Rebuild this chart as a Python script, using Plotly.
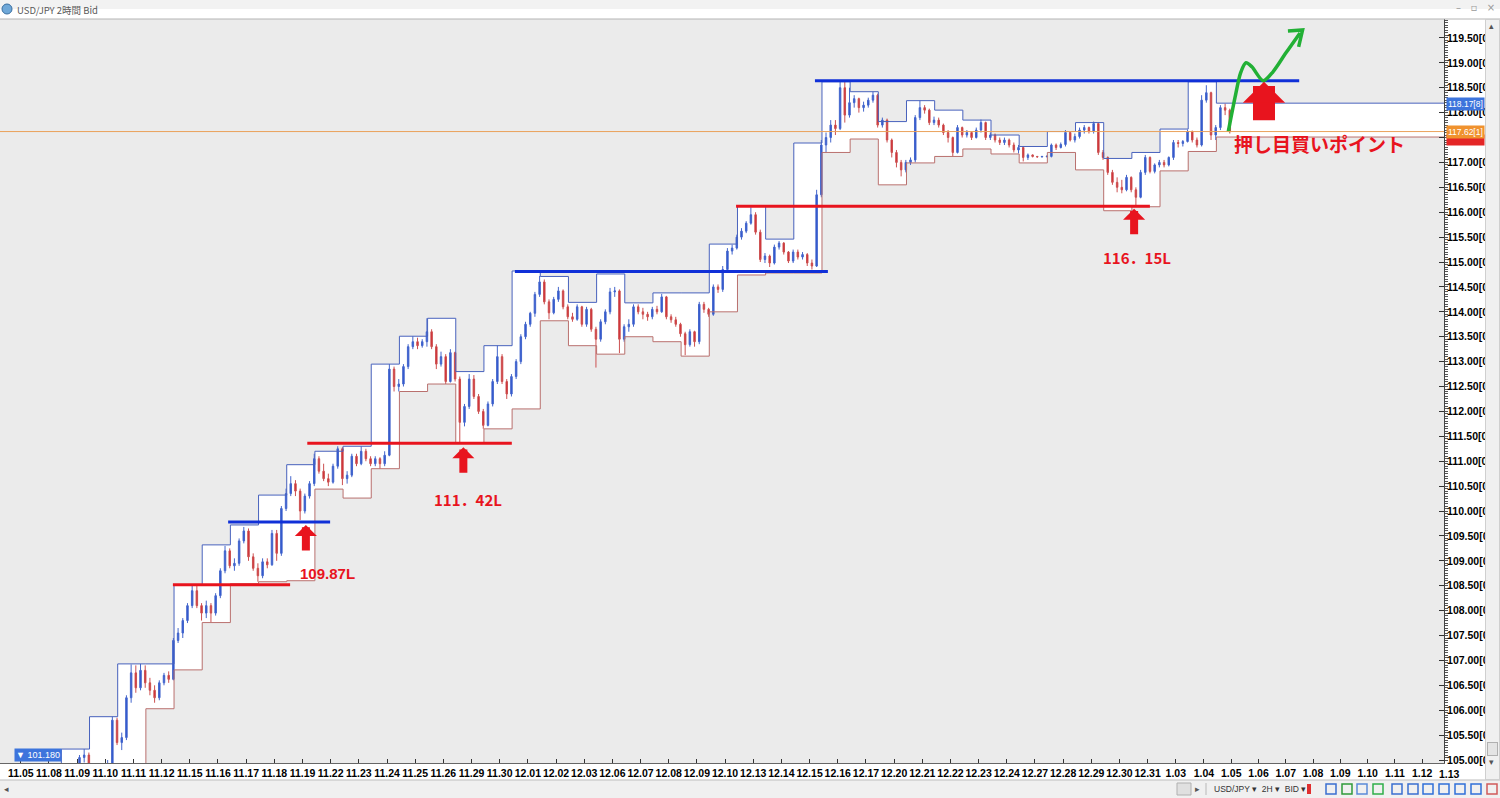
import plotly.graph_objects as go

# ---------------- data ----------------
day_labels = ["11.05", "11.08", "11.09", "11.10", "11.11", "11.12", "11.15", "11.16", "11.17",
              "11.18", "11.19", "11.22", "11.23", "11.24", "11.25", "11.26", "11.29", "11.30",
              "12.01", "12.02", "12.03", "12.06", "12.07", "12.08", "12.09", "12.10", "12.13",
              "12.14", "12.15", "12.16", "12.17", "12.20", "12.21", "12.22", "12.23", "12.24",
              "12.27", "12.28", "12.29", "12.30", "12.31", "1.03", "1.04"]
future_labels = ["1.05", "1.06", "1.07", "1.08", "1.09", "1.10", "1.11", "1.12", "1.13"]
BARS_PER_DAY = 6

bar_open = [
    103.10, 103.25, 103.45, 103.55, 103.70, 103.80,
    103.95, 104.25, 104.40, 104.35, 104.55, 104.70,
    104.65, 105.05, 105.10, 104.50, 102.80, 101.90,
    103.30, 104.90, 105.80, 105.35, 105.45, 106.25,
    106.75, 106.45, 106.80, 106.55, 106.40, 106.25,
    106.55, 106.70, 106.62, 107.40, 107.55, 107.80,
    108.10, 108.40, 108.10, 107.95, 108.10, 107.95,
    108.30, 108.80, 109.20, 108.90, 108.95, 109.40,
    109.60, 109.08, 108.85, 108.70, 108.98, 108.92,
    109.55, 109.15, 110.05, 110.35, 110.55, 110.40,
    110.00, 110.30, 110.55, 111.05, 110.80, 110.65,
    110.58, 110.90, 111.25, 110.65, 110.72, 111.10,
    110.95, 111.20, 111.05, 110.95, 111.05, 110.95,
    111.12, 112.85, 112.50, 112.55, 112.90, 113.30,
    113.40, 113.32, 113.40, 113.60, 113.30, 112.95,
    113.10, 112.60, 113.18, 112.65, 111.78, 112.10,
    112.65, 112.30, 112.00, 111.72, 112.15, 112.60,
    113.10, 112.60, 112.35, 112.70, 113.00, 113.50,
    113.75, 113.97, 114.35, 114.60, 114.20, 113.98,
    114.25, 114.42, 114.10, 113.90, 113.85, 114.10,
    113.75, 114.05, 113.65, 113.45, 113.80, 114.00,
    114.40, 114.42, 113.45, 113.70, 113.75, 114.10,
    114.00, 113.95, 113.90, 114.05, 114.00, 114.30,
    113.90, 113.84, 113.75, 113.56, 113.34, 113.60,
    113.40, 114.15, 114.05, 113.95, 114.50, 114.45,
    114.85, 115.22, 115.28, 115.50, 115.62, 115.78,
    115.95, 115.60, 115.05, 115.12, 114.98, 115.30,
    115.38, 115.20, 115.02, 115.20, 115.10, 115.15,
    114.98, 114.92, 116.35, 117.35, 117.50, 117.75,
    117.68, 118.50, 117.95, 118.20, 118.28, 118.10,
    118.15, 118.25, 118.35, 117.75, 117.85, 117.45,
    117.20, 117.00, 116.85, 117.00, 117.05, 117.90,
    118.10, 118.05, 117.80, 117.85, 117.75, 117.60,
    117.50, 117.20, 117.70, 117.55, 117.60, 117.50,
    117.65, 117.80, 117.50, 117.55, 117.45, 117.40,
    117.45, 117.35, 117.25, 117.30, 117.10, 117.15,
    117.12, 117.11, 117.12, 117.12, 117.35, 117.30,
    117.36, 117.60, 117.45, 117.52, 117.65, 117.70,
    117.62, 117.78, 117.20, 117.10, 116.80, 116.60,
    116.50, 116.45, 116.70, 116.45, 116.30, 116.80,
    117.10, 116.82, 116.95, 117.00, 116.95, 117.10,
    117.40, 117.38, 117.42, 117.62, 117.45, 117.35,
    118.25, 118.40, 117.55, 117.70, 118.10, 118.05,
]
bar_high = [
    103.35, 103.50, 103.65, 103.80, 103.90, 104.00,
    104.30, 104.45, 104.55, 104.60, 104.75, 104.85,
    105.10, 105.22, 105.15, 104.60, 103.00, 103.40,
    105.00, 105.87, 105.85, 105.55, 106.30, 106.92,
    106.90, 106.93, 106.90, 106.65, 106.50, 106.60,
    106.75, 106.78, 107.45, 107.65, 107.85, 108.15,
    108.52, 108.50, 108.15, 108.20, 108.15, 108.35,
    108.85, 109.30, 109.25, 109.05, 109.45, 109.68,
    109.65, 109.15, 108.95, 109.05, 109.05, 109.62,
    109.62, 110.10, 110.45, 110.70, 110.62, 110.45,
    110.35, 110.60, 111.15, 111.10, 110.95, 110.75,
    110.95, 111.30, 111.28, 110.80, 111.15, 111.15,
    111.30, 111.25, 111.10, 111.10, 111.08, 111.20,
    112.95, 112.90, 112.65, 112.95, 113.35, 113.51,
    113.48, 113.45, 113.87, 113.65, 113.35, 113.20,
    113.15, 113.25, 113.20, 112.70, 112.15, 112.75,
    112.73, 112.35, 112.05, 112.20, 112.65, 113.32,
    113.15, 112.65, 112.75, 113.05, 113.55, 113.80,
    114.00, 114.40, 114.72, 114.65, 114.25, 114.30,
    114.50, 114.45, 114.15, 113.98, 114.15, 114.12,
    114.10, 114.08, 113.70, 113.85, 114.05, 114.48,
    114.50, 114.45, 113.75, 113.85, 114.15, 114.15,
    114.08, 114.00, 114.10, 114.12, 114.36, 114.32,
    113.95, 113.90, 113.78, 113.60, 113.65, 113.62,
    114.20, 114.20, 114.08, 114.55, 114.55, 114.92,
    115.28, 115.35, 115.55, 115.68, 115.82, 116.10,
    116.00, 115.65, 115.18, 115.15, 115.35, 115.42,
    115.40, 115.22, 115.25, 115.25, 115.20, 115.18,
    115.05, 116.45, 117.45, 117.60, 117.85, 117.85,
    118.64, 118.62, 118.50, 118.35, 118.30, 118.22,
    118.30, 118.42, 118.38, 117.90, 117.88, 117.48,
    117.25, 117.05, 117.05, 117.10, 117.95, 118.24,
    118.15, 118.08, 117.92, 117.90, 117.78, 117.65,
    117.52, 117.75, 117.72, 117.65, 117.62, 117.70,
    117.86, 117.82, 117.60, 117.58, 117.50, 117.50,
    117.48, 117.40, 117.35, 117.32, 117.18, 117.16,
    117.13, 117.13, 117.14, 117.38, 117.38, 117.40,
    117.65, 117.62, 117.58, 117.70, 117.75, 117.72,
    117.82, 117.80, 117.25, 117.12, 116.85, 116.70,
    116.65, 116.75, 116.72, 116.50, 116.85, 117.15,
    117.12, 116.98, 117.05, 117.05, 117.12, 117.45,
    117.45, 117.45, 117.66, 117.64, 117.50, 118.35,
    118.55, 118.42, 117.75, 118.15, 118.18, 118.08,
]
bar_low = [
    102.95, 103.15, 103.35, 103.45, 103.60, 103.72,
    103.90, 104.15, 104.30, 104.30, 104.45, 104.55,
    104.60, 104.95, 104.40, 102.60, 101.18, 101.80,
    103.20, 104.85, 105.30, 105.20, 105.40, 106.15,
    106.35, 106.40, 106.45, 106.30, 106.15, 106.20,
    106.50, 106.55, 106.60, 107.35, 107.45, 107.75,
    108.05, 108.05, 107.80, 107.85, 107.77, 107.90,
    108.25, 108.75, 108.85, 108.80, 108.90, 109.35,
    109.00, 108.80, 108.58, 108.65, 108.85, 108.90,
    109.00, 109.10, 110.00, 110.30, 110.30, 109.82,
    109.95, 110.25, 110.50, 110.75, 110.60, 110.50,
    110.55, 110.85, 110.52, 110.55, 110.68, 110.90,
    110.92, 111.00, 110.90, 110.90, 110.85, 110.90,
    111.10, 112.40, 112.40, 112.50, 112.85, 113.25,
    113.25, 113.28, 113.30, 113.25, 112.85, 112.90,
    112.55, 112.58, 112.60, 111.36, 111.70, 112.05,
    112.25, 111.95, 111.65, 111.70, 112.10, 112.55,
    112.55, 112.25, 112.30, 112.65, 112.95, 113.45,
    113.70, 113.90, 114.30, 114.15, 113.85, 113.95,
    114.20, 114.05, 113.85, 113.80, 113.82, 113.70,
    113.70, 113.60, 112.88, 113.40, 113.75, 113.95,
    114.30, 113.17, 113.40, 113.60, 113.70, 113.95,
    113.85, 113.82, 113.85, 113.95, 113.98, 113.85,
    113.78, 113.70, 113.50, 113.13, 113.30, 113.30,
    113.35, 113.98, 113.90, 113.92, 114.38, 114.40,
    114.80, 115.15, 115.25, 115.45, 115.58, 115.75,
    115.55, 115.00, 114.98, 114.90, 114.95, 115.25,
    115.15, 114.98, 114.98, 115.05, 115.05, 114.92,
    114.85, 114.90, 116.30, 117.20, 117.40, 117.55,
    117.65, 117.80, 117.90, 118.10, 118.00, 118.02,
    118.10, 118.20, 117.70, 117.70, 117.40, 117.10,
    116.90, 116.72, 116.80, 116.95, 117.00, 117.85,
    117.98, 117.75, 117.75, 117.70, 117.55, 117.40,
    117.12, 117.18, 117.50, 117.50, 117.45, 117.48,
    117.60, 117.45, 117.45, 117.40, 117.35, 117.35,
    117.30, 117.20, 117.18, 117.02, 117.05, 117.10,
    117.10, 117.10, 117.10, 117.10, 117.25, 117.28,
    117.32, 117.42, 117.40, 117.48, 117.58, 117.58,
    117.58, 117.15, 117.05, 116.75, 116.55, 116.40,
    116.38, 116.42, 116.40, 116.11, 116.28, 116.75,
    116.78, 116.78, 116.90, 116.90, 116.92, 117.05,
    117.30, 117.32, 117.40, 117.40, 117.30, 117.32,
    118.20, 117.45, 117.45, 117.65, 117.95, 117.58,
]
bar_close = [
    103.25, 103.45, 103.55, 103.70, 103.80, 103.95,
    104.25, 104.40, 104.35, 104.55, 104.70, 104.65,
    105.05, 105.10, 104.50, 102.80, 101.90, 103.30,
    104.90, 105.80, 105.35, 105.45, 106.25, 106.75,
    106.45, 106.80, 106.55, 106.40, 106.25, 106.55,
    106.70, 106.62, 107.40, 107.55, 107.80, 108.10,
    108.40, 108.10, 107.95, 108.10, 107.95, 108.30,
    108.80, 109.20, 108.90, 108.95, 109.40, 109.60,
    109.08, 108.85, 108.70, 108.98, 108.92, 109.55,
    109.15, 110.05, 110.35, 110.55, 110.40, 110.00,
    110.30, 110.55, 111.05, 110.80, 110.65, 110.58,
    110.90, 111.25, 110.65, 110.72, 111.10, 110.95,
    111.20, 111.05, 110.95, 111.05, 110.95, 111.12,
    112.85, 112.50, 112.55, 112.90, 113.30, 113.40,
    113.32, 113.40, 113.60, 113.30, 112.95, 113.10,
    112.60, 113.18, 112.65, 111.78, 112.10, 112.65,
    112.30, 112.00, 111.72, 112.15, 112.60, 113.10,
    112.60, 112.35, 112.70, 113.00, 113.50, 113.75,
    113.97, 114.35, 114.60, 114.20, 113.98, 114.25,
    114.42, 114.10, 113.90, 113.85, 114.10, 113.75,
    114.05, 113.65, 113.45, 113.80, 114.00, 114.40,
    114.42, 113.45, 113.70, 113.75, 114.10, 114.00,
    113.95, 113.90, 114.05, 114.00, 114.30, 113.90,
    113.84, 113.75, 113.56, 113.34, 113.60, 113.40,
    114.15, 114.05, 113.95, 114.50, 114.45, 114.85,
    115.22, 115.28, 115.50, 115.62, 115.78, 115.95,
    115.60, 115.05, 115.12, 114.98, 115.30, 115.38,
    115.20, 115.02, 115.20, 115.10, 115.15, 114.98,
    114.92, 116.35, 117.35, 117.50, 117.75, 117.68,
    118.50, 117.95, 118.20, 118.28, 118.10, 118.15,
    118.25, 118.35, 117.75, 117.85, 117.45, 117.20,
    117.00, 116.85, 117.00, 117.05, 117.90, 118.10,
    118.05, 117.80, 117.85, 117.75, 117.60, 117.50,
    117.20, 117.70, 117.55, 117.60, 117.50, 117.65,
    117.80, 117.50, 117.55, 117.45, 117.40, 117.45,
    117.35, 117.25, 117.30, 117.10, 117.15, 117.12,
    117.11, 117.12, 117.12, 117.35, 117.30, 117.36,
    117.60, 117.45, 117.52, 117.65, 117.70, 117.62,
    117.78, 117.20, 117.10, 116.80, 116.60, 116.50,
    116.45, 116.70, 116.45, 116.30, 116.80, 117.10,
    116.82, 116.95, 117.00, 116.95, 117.10, 117.40,
    117.38, 117.42, 117.62, 117.45, 117.35, 118.25,
    118.40, 117.55, 117.70, 118.10, 118.05, 117.62,
]

# daily range boxes (upper = blue, lower = red), one per day starting at day 1
chan_high = [105.22, 105.87, 106.93, 106.93, 108.52, 109.32, 109.72, 110.32, 110.93, 111.20,
             111.30, 112.95, 113.51, 113.87, 112.80, 113.32, 114.82, 114.71, 114.19, 114.76,
             114.18, 114.38, 114.38, 115.36, 116.12, 115.46, 117.39, 118.62, 118.42, 117.82,
             118.24, 118.05, 117.85, 117.55, 117.32, 117.62, 117.80, 117.08, 117.20, 117.67,
             118.62, 118.19]
chan_low = [104.00, 101.18, 102.00, 106.03, 106.81, 107.76, 108.54, 108.58, 108.60, 110.44,
            110.26, 110.85, 112.40, 112.55, 111.36, 111.65, 112.05, 113.82, 113.32, 113.15,
            113.50, 113.40, 113.11, 114.00, 114.74, 114.78, 114.78, 117.20, 117.47, 116.55,
            116.99, 117.12, 117.27, 117.17, 116.99, 117.20, 116.85, 116.03, 116.11, 116.83,
            117.22, 117.51]

# hand-drawn horizontal lines (start day, end day, price, colour)
hline_start = [5.40, 7.36, 10.17, 17.54, 28.19, 25.39]
hline_end = [9.56, 10.98, 17.43, 28.65, 45.38, 40.08]
hline_price = [108.52, 109.78, 111.36, 114.81, 118.64, 116.12]
hline_color = ["#e8141e", "#1030d8", "#e8141e", "#1030d8", "#1030d8", "#e8141e"]

# support marks (arrow tip position and label)
mark_day = [10.12, 15.71, 39.52]
mark_tip = [109.72, 111.28, 116.07]
mark_text = ["109.87L", "111．42L", "116．15L"]
mark_text_day = [10.89, 15.88, 39.62]
mark_text_price = [108.74, 110.24, 115.10]
mark_font = ["Liberation Sans", "Noto Sans CJK JP", "Noto Sans CJK JP"]

buy_day, buy_tip = 44.13, 118.62
buy_text, buy_text_day, buy_text_price = "押し目買いポイント", 42.99, 117.39

green_day = [42.86, 43.10, 43.30, 43.49, 43.70, 44.10, 44.45, 44.91, 45.41]
green_price = [117.61, 118.30, 118.80, 119.00, 118.92, 118.64, 118.82, 119.20, 119.60]
green_head_day = [44.98, 45.50, 45.36]
green_head_price = [119.64, 119.66, 119.32]

last_price = 117.62
ask_price = 118.17
bid_tag_price = 117.46
low_price_text = "▼ 101.180"

y_ticks = [105.0 + 0.5 * i for i in range(30)]
hidden_tick = 117.5   # this scale label sits under the price tags

# ---------------- layout geometry ----------------
W, H = 1500, 798
M_L, M_R, M_T, M_B = 0, 56, 19, 35
PW, PH = W - M_L - M_R, H - M_T - M_B
X_MIN, X_MAX = -0.738, 50.52
Y_MIN, Y_MAX = 104.94, 119.88
BOX_SHIFT = 0.44
FUT_STEP = 0.968


def px(xp):
    return (xp - M_L) / PW


def py(yp):
    return 1 - (yp - M_T) / PH


n_days = len(day_labels)
bar_x = [d + (i + 0.5) / BARS_PER_DAY for d in range(n_days) for i in range(BARS_PER_DAY)]
tick_pos = list(range(n_days)) + [n_days - 1 + FUT_STEP * (j + 1) for j in range(len(future_labels))]
tick_txt = day_labels + future_labels
y_tick_txt = ["" if abs(v - hidden_tick) < 1e-9 else f"{v:.2f}[0" for v in y_ticks]

fig = go.Figure()

# daily range boxes: white body drawn as bars (below candles), edges as step lines
box_start = [k + 1 + BOX_SHIFT for k in range(len(chan_high))]
box_width = [1.0] * (len(chan_high) - 1) + [X_MAX - box_start[-1]]
box_mid = [s + w / 2 for s, w in zip(box_start, box_width)]
fig.add_trace(go.Bar(x=box_mid, base=chan_low, y=[h - l for h, l in zip(chan_high, chan_low)],
                     width=box_width, marker=dict(color="white", line=dict(width=0)),
                     hoverinfo="skip"))

# candles
fig.add_trace(go.Candlestick(
    x=bar_x, open=bar_open, high=bar_high, low=bar_low, close=bar_close,
    increasing=dict(line=dict(color="#4466cc", width=1), fillcolor="#2a52cf"),
    decreasing=dict(line=dict(color="#cc5050", width=1), fillcolor="#d2222c"),
    whiskerwidth=0, hoverinfo="skip"))

box_x = box_start + [X_MAX]
fig.add_trace(go.Scatter(x=[box_start[0], box_start[0]], y=[chan_low[0], chan_high[0]], mode="lines",
                         line=dict(color="#4862bd", width=1), hoverinfo="skip"))
fig.add_trace(go.Scatter(x=box_x, y=chan_low + [chan_low[-1]], mode="lines",
                         line=dict(color="#b9706e", width=1, shape="hv"), hoverinfo="skip"))
fig.add_trace(go.Scatter(x=box_x, y=chan_high + [chan_high[-1]], mode="lines",
                         line=dict(color="#4862bd", width=1, shape="hv"), hoverinfo="skip"))

# hand-drawn horizontal lines
for x0, x1, p, c in zip(hline_start, hline_end, hline_price, hline_color):
    fig.add_trace(go.Scatter(x=[x0, x1], y=[p, p], mode="lines",
                             line=dict(color=c, width=3), hoverinfo="skip"))

# green projection curve
fig.add_trace(go.Scatter(x=green_day, y=green_price, mode="lines",
                         line=dict(color="#22b035", width=3.5, shape="spline", smoothing=0.8),
                         hoverinfo="skip"))
fig.add_trace(go.Scatter(x=green_head_day, y=green_head_price, mode="lines",
                         line=dict(color="#22b035", width=3.5), hoverinfo="skip"))

# current price line
fig.add_shape(type="line", xref="paper", x0=0, x1=1, yref="y", y0=last_price, y1=last_price,
              line=dict(color="#eaa25c", width=1), layer="above")

annotations = []
red = "#e8141e"
for d, tip in zip(mark_day, mark_tip):
    annotations.append(dict(x=d, y=tip, xref="x", yref="y", text="", showarrow=True,
                            ax=0, ay=27, arrowhead=1, arrowsize=0.46, arrowwidth=8,
                            arrowcolor=red, standoff=0))
for t, d, p, f in zip(mark_text, mark_text_day, mark_text_price, mark_font):
    annotations.append(dict(x=d, y=p, xref="x", yref="y", text=t, showarrow=False,
                            xanchor="center", yanchor="middle",
                            font=dict(family=f, size=15, color=red, weight="bold")))
annotations.append(dict(x=buy_day, y=buy_tip, xref="x", yref="y", text="", showarrow=True,
                        ax=0, ay=40, arrowhead=1, arrowsize=0.32, arrowwidth=22,
                        arrowcolor=red, standoff=0))
annotations.append(dict(x=buy_text_day, y=buy_text_price, xref="x", yref="y", text=buy_text,
                        showarrow=False, xanchor="left", yanchor="middle",
                        font=dict(family="Noto Sans CJK JP", size=19, color=red, weight="bold")))

# price tags on the axis
annotations.append(dict(x=1, y=bid_tag_price, xref="paper", yref="y", xanchor="left",
                        yanchor="middle", xshift=2, text=" ", showarrow=False, width=37, height=10,
                        bgcolor="#e42626", borderpad=0))
annotations.append(dict(x=1, y=last_price, xref="paper", yref="y", xanchor="left", yanchor="middle",
                        xshift=2, text="117.62[1]", showarrow=False, bgcolor="#f0922e", borderpad=1,
                        font=dict(family="Liberation Sans", size=8.5, color="white")))
annotations.append(dict(x=1, y=ask_price, xref="paper", yref="y", xanchor="left", yanchor="middle",
                        xshift=2, text="118.17[8]", showarrow=False, bgcolor="#3d74dc", borderpad=1,
                        font=dict(family="Liberation Sans", size=8.5, color="white")))
annotations.append(dict(x=px(14), y=105.10, xref="paper", yref="y", xanchor="left", yanchor="middle",
                        text=low_price_text, showarrow=False, bgcolor="#3d74dc", borderpad=1,
                        font=dict(family="Liberation Sans", size=9, color="white")))

# last future tick label sits under the price scale
annotations.append(dict(x=(tick_pos[-1] - X_MIN) / (X_MAX - X_MIN), y=0, xref="paper", yref="paper",
                        xanchor="center", yanchor="top", yshift=-3, text=tick_txt[-1],
                        showarrow=False,
                        font=dict(family="Liberation Sans", size=10.5, color="black", weight="bold")))

# right scrollbar (annotation boxes sit above the price-scale labels)
annotations.append(dict(x=px(1485), y=py(19), xref="paper", yref="paper", xanchor="left",
                        yanchor="top", text=" ", showarrow=False, width=13, height=759,
                        bgcolor="#f0f0f0", bordercolor="#cfcfcf", borderwidth=1, borderpad=0))
annotations.append(dict(x=px(1487), y=py(742), xref="paper", yref="paper", xanchor="left",
                        yanchor="top", text=" ", showarrow=False, width=9, height=12,
                        bgcolor="#e4e4e4", bordercolor="#b0b0b0", borderwidth=1, borderpad=0))

# window chrome texts
chrome = dict(xref="paper", yref="paper", showarrow=False, yanchor="middle")
annotations.append(dict(chrome, x=px(15), y=py(9.5), xanchor="left", text="USD/JPY 2時間 Bid",
                        font=dict(family="Noto Sans CJK JP", size=9.5, color="#5a5a5a")))
annotations.append(dict(chrome, x=px(1475), y=py(8), xanchor="center",
                        text="–&nbsp;&nbsp;&nbsp;▫&nbsp;&nbsp;&nbsp;×",
                        font=dict(family="DejaVu Sans", size=10, color="#9a9a9a")))
annotations.append(dict(chrome, x=px(1212), y=py(789), xanchor="left",
                        text="USD/JPY ▾&nbsp;&nbsp;2H ▾&nbsp;&nbsp;BID ▾",
                        font=dict(family="Liberation Sans", size=8.5, color="#333")))
annotations.append(dict(chrome, x=px(6), y=py(789), xanchor="center", text="◂",
                        font=dict(family="DejaVu Sans", size=9, color="#555")))
annotations.append(dict(chrome, x=px(1197), y=py(789), xanchor="center", text="▸",
                        font=dict(family="DejaVu Sans", size=9, color="#555")))
annotations.append(dict(chrome, x=px(1492), y=py(26), xanchor="center", text="▴",
                        font=dict(family="DejaVu Sans", size=9, color="#555")))
annotations.append(dict(chrome, x=px(1492), y=py(762), xanchor="center", text="▾",
                        font=dict(family="DejaVu Sans", size=9, color="#555")))

shapes = [
    # title bar
    dict(type="rect", xref="paper", yref="paper", x0=px(0), x1=px(W), y0=py(19), y1=py(0),
         fillcolor="#e4e4e4", line=dict(width=0), layer="above"),
    dict(type="rect", xref="paper", yref="paper", x0=px(0), x1=px(W), y0=py(9), y1=py(0),
         fillcolor="#f2f2f2", line=dict(width=0), layer="above"),
    dict(type="line", xref="paper", yref="paper", x0=px(0), x1=px(W), y0=py(19), y1=py(19),
         line=dict(color="#b4b4b4", width=1), layer="above"),
    dict(type="circle", xref="paper", yref="paper", x0=px(2), x1=px(12), y0=py(14), y1=py(4),
         fillcolor="#6fa8d8", line=dict(color="#3a6fa0", width=1), layer="above"),
    # bottom toolbar
    dict(type="rect", xref="paper", yref="paper", x0=px(0), x1=px(W), y0=py(H), y1=py(780),
         fillcolor="#f0f0f0", line=dict(width=0), layer="above"),
    dict(type="line", xref="paper", yref="paper", x0=px(0), x1=px(W), y0=py(780), y1=py(780),
         line=dict(color="#bdbdbd", width=1), layer="above"),
    dict(type="rect", xref="paper", yref="paper", x0=px(1177), x1=px(1191), y0=py(795), y1=py(783),
         fillcolor="#e0e0e0", line=dict(color="#b0b0b0", width=1), layer="above"),
    dict(type="line", xref="paper", yref="paper", x0=px(1206), x1=px(1206), y0=py(795), y1=py(783),
         line=dict(color="#b8b8b8", width=1), layer="above"),
    dict(type="rect", xref="paper", yref="paper", x0=px(1307), x1=px(1311), y0=py(794), y1=py(784),
         fillcolor="#e03030", line=dict(width=0), layer="above"),
]
icon_x = [1331, 1347, 1362, 1378, 1397, 1413, 1428, 1444, 1460, 1476, 1492]
icon_c = ["#3a6fd0", "#2f9a3a", "#5a8ad8", "#2fae4a", "#3a6fd0", "#3a6fd0", "#2f6fd8",
          "#2f6fd8", "#2f6fd8", "#2f6fd8", "#d05a5a"]
for ix, ic in zip(icon_x, icon_c):
    shapes.append(dict(type="rect", xref="paper", yref="paper", x0=px(ix - 5), x1=px(ix + 5),
                       y0=py(794), y1=py(784), fillcolor="rgba(0,0,0,0)",
                       line=dict(color=ic, width=1.5), layer="above"))

fig.update_layout(
    width=W, height=H, margin=dict(l=M_L, r=M_R, t=M_T, b=M_B, pad=0),
    paper_bgcolor="white", plot_bgcolor="#ebebeb", showlegend=False, boxgap=0.55,
    bargap=0,
    xaxis=dict(range=[X_MIN, X_MAX], tickmode="array", tickvals=tick_pos, ticktext=tick_txt,
               ticks="inside", ticklen=4, tickcolor="#333", showline=True, linecolor="#666",
               linewidth=1, showgrid=False, zeroline=False, rangeslider=dict(visible=False),
               tickangle=0,
               tickfont=dict(family="Liberation Sans", size=10.5, color="black", weight="bold")),
    yaxis=dict(side="right", range=[Y_MIN, Y_MAX], tickmode="array", tickvals=y_ticks,
               ticktext=y_tick_txt, ticks="inside", ticklen=5,
               tickcolor="#333", showline=True, linecolor="#444", linewidth=1,
               showgrid=False, zeroline=False,
               minor=dict(tickmode="linear", tick0=105, dtick=0.05, ticks="outside", ticklen=3,
                          tickcolor="#555", showgrid=False),
               tickfont=dict(family="Liberation Sans", size=10.5, color="black", weight="bold")),
    annotations=annotations, shapes=shapes,
)

fig.write_html("out.html", config={"displayModeBar": False},
               post_script="document.body.style.margin='0px';document.body.style.overflow='hidden';")
